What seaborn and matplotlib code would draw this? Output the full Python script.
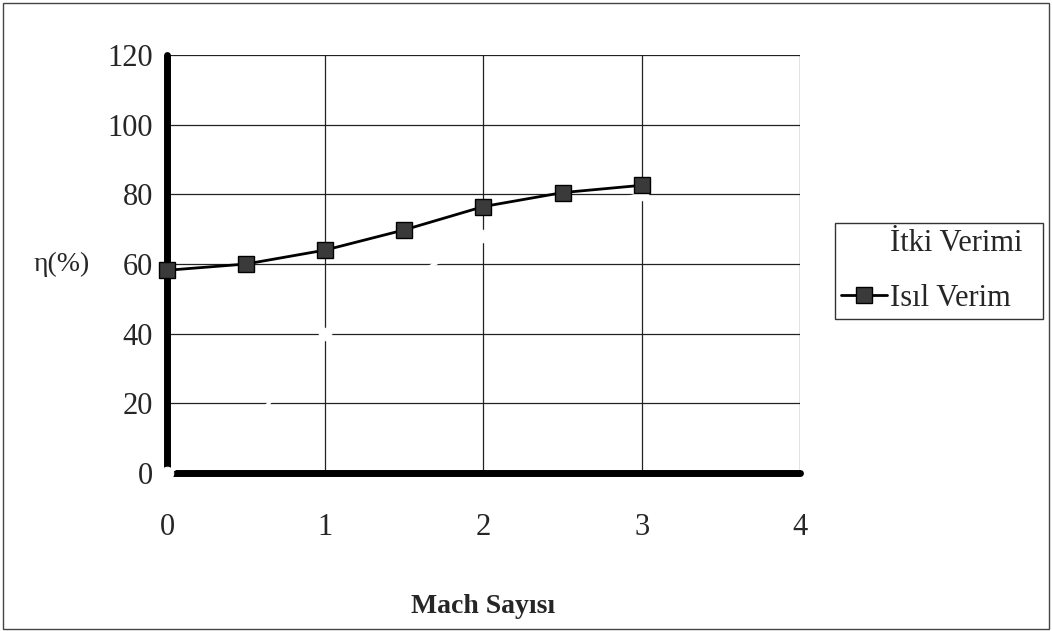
import matplotlib
matplotlib.use("Agg")
import matplotlib.pyplot as plt
import seaborn as sns
import pandas as pd
from matplotlib.patches import Rectangle

mach = [0, 0.5, 1, 1.5, 2, 2.5, 3]
itki_verimi = [0, 12, 40, 55, 68, 75, 80]
isil_verim = [58.2, 60, 64, 69.8, 76.5, 80.5, 82.6]
x_ticks = [0, 1, 2, 3, 4]
y_ticks = [0, 20, 40, 60, 80, 100, 120]

sns.set_theme(style="white")
plt.rcParams['font.family'] = ['Liberation Serif', 'DejaVu Serif']

fig = plt.figure(figsize=(10.52, 6.31), dpi=100)
ax = fig.add_axes([0.1587, 0.2504, 0.6017, 0.6624])

df1 = pd.DataFrame({"Mach": mach, "eta": itki_verimi})
df2 = pd.DataFrame({"Mach": mach, "eta": isil_verim})

sns.lineplot(data=df1, x="Mach", y="eta", ax=ax, color="white", linewidth=2.5,
             marker="o", markersize=9, markerfacecolor="white", markeredgecolor="white",
             label="İtki Verimi", zorder=3, clip_on=False)
sns.lineplot(data=df2, x="Mach", y="eta", ax=ax, color="black", linewidth=2,
             marker="s", markersize=12, markerfacecolor="#3a3a3a", markeredgecolor="black",
             markeredgewidth=1, label="Isıl Verim", zorder=4, clip_on=False)

ax.set_xlim(0, 4)
ax.set_ylim(0, 120)
ax.set_xticks(x_ticks)
ax.set_yticks(y_ticks)
ax.grid(True, color="#222222", linewidth=0.9)
ax.set_axisbelow(True)

for s in ["top", "right"]:
    ax.spines[s].set_visible(False)
for s in ["left", "bottom"]:
    ax.spines[s].set_linewidth(5)
    ax.spines[s].set_color("black")
    ax.spines[s].set_capstyle("round")

ax.tick_params(axis="both", which="major", direction="out", length=7, width=4.5,
               color="black", labelsize=22)
ax.tick_params(axis="x", pad=22)
ax.tick_params(axis="y", pad=3)

ax.set_xlabel("Mach Sayısı", fontsize=20, fontweight="bold", labelpad=37)
ax.set_ylabel("η(%)", fontsize=20, rotation=0)
ax.yaxis.set_label_coords(-0.166, 0.5)
ax.yaxis.label.set_verticalalignment("center")
ax.yaxis.label.set_horizontalalignment("center")

leg = ax.legend(loc="center left", bbox_to_anchor=(0.7937, 0.496, 0.198, 0.15),
                bbox_transform=fig.transFigure, mode="expand", fontsize=22,
                frameon=True, fancybox=False, edgecolor="black", handlelength=1.5,
                handletextpad=0.1, borderpad=0.2, labelspacing=0.85, borderaxespad=0)
leg.get_frame().set_linewidth(1)
fr = leg.get_frame()

fig.patches.append(Rectangle((0.003, 0.003), 0.994, 0.992, transform=fig.transFigure,
                             fill=False, edgecolor="#444444", linewidth=1))

fig.savefig("out.png", dpi=100)
